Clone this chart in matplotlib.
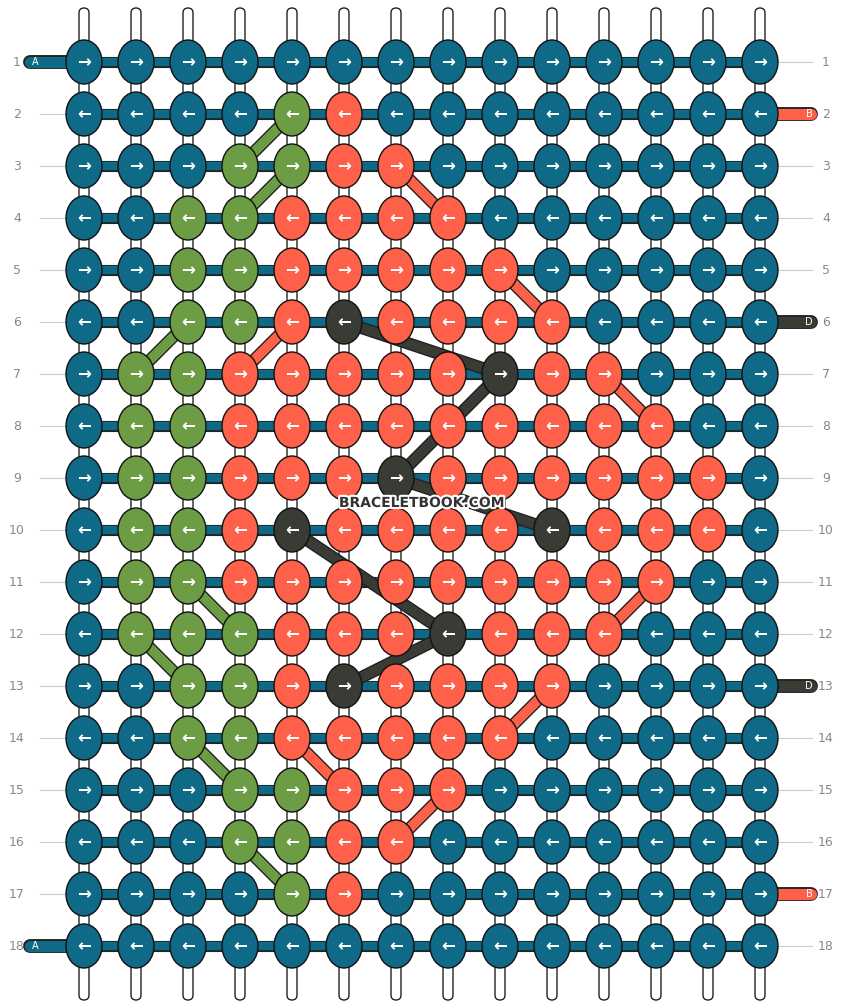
import matplotlib
matplotlib.use("Agg")
import matplotlib.pyplot as plt
from matplotlib.patches import Ellipse, FancyBboxPatch
import matplotlib.patheffects as pe

TEAL, GREEN, RED, DARK = "#0f6a87", "#6c9d45", "#ff6049", "#393b35"
cmap = {"T": TEAL, "G": GREEN, "R": RED, "D": DARK}
rows = [
    "TTTTTTTTTTTTTT",
    "TTTTGRTTTTTTTT",
    "TTTGGRRTTTTTTT",
    "TTGGRRRRTTTTTT",
    "TTGGRRRRRTTTTT",
    "TTGGRDRRRRTTTT",
    "TGGRRRRRDRRTTT",
    "TGGRRRRRRRRRTT",
    "TGGRRRDRRRRRRT",
    "TGGRDRRRRDRRRT",
    "TGGRRRRRRRRRTT",
    "TGGGRRRDRRRTTT",
    "TTGGRDRRRRTTTT",
    "TTGGRRRRRTTTTT",
    "TTTGGRRRTTTTTT",
    "TTTGGRRTTTTTTT",
    "TTTTGRTTTTTTTT",
    "TTTTTTTTTTTTTT",
]
# diagonal threads: (color, col1, row1, col2, row2)
segments = [
    ("G", 5, 2, 4, 3), ("G", 5, 3, 4, 4), ("G", 3, 6, 2, 7),
    ("G", 2, 12, 3, 13), ("G", 3, 11, 4, 12), ("G", 3, 14, 4, 15), ("G", 4, 16, 5, 17),
    ("R", 7, 3, 8, 4), ("R", 9, 5, 10, 6), ("R", 5, 6, 4, 7), ("R", 11, 7, 12, 8),
    ("R", 12, 11, 11, 12), ("R", 10, 13, 9, 14), ("R", 5, 14, 6, 15), ("R", 8, 15, 7, 16),
    ("D", 6, 6, 9, 7), ("D", 9, 7, 7, 9), ("D", 7, 9, 10, 10),
    ("D", 5, 10, 8, 12), ("D", 8, 12, 6, 13),
]
left_ends = {1: ("A", TEAL), 18: ("A", TEAL)}
right_ends = {2: ("B", RED), 17: ("B", RED), 6: ("D", DARK), 13: ("D", DARK)}

fig = plt.figure(figsize=(8.44, 10.08), dpi=100)
ax = fig.add_axes([0, 0, 1, 1])
ax.set_xlim(0, 844); ax.set_ylim(1008, 0); ax.axis("off")
X = lambda c: 84 + 52 * (c - 1)
Y = lambda r: 62 + 52 * (r - 1)
ncol = len(rows[0])

# vertical white strands
for c in range(1, ncol + 1):
    ax.add_patch(FancyBboxPatch((X(c) - 5, 8), 10, 992, boxstyle="round,pad=0,rounding_size=5",
                                fc="white", ec="#222", lw=1, zorder=1))
for r in range(1, len(rows) + 1):
    y = Y(r)
    ax.plot([40, 68], [y, y], color="#ccc", lw=0.8, zorder=0)
    ax.plot([778, 812], [y, y], color="#ccc", lw=0.8, zorder=0)
    ax.text(17, y, str(r), color="#888", ha="center", va="center", fontsize=9)
    ax.text(826, y, str(r), color="#888", ha="center", va="center", fontsize=9)
    ax.plot([X(1) - 10, X(ncol) + 10], [y, y], color=TEAL, lw=6, zorder=2,
            path_effects=[pe.Stroke(linewidth=8, foreground="#222"), pe.Normal()])
    if r in left_ends:
        t, col = left_ends[r]
        ax.plot([30, X(1)], [y, y], color=col, lw=8, solid_capstyle="round", zorder=2,
                path_effects=[pe.Stroke(linewidth=10, foreground="#222", capstyle="round"), pe.Normal()])
        ax.text(35, y, t, color="white", fontsize=7, ha="center", va="center", zorder=3)
    if r in right_ends:
        t, col = right_ends[r]
        ax.plot([X(ncol), 811], [y, y], color=col, lw=8, solid_capstyle="round", zorder=2,
                path_effects=[pe.Stroke(linewidth=10, foreground="#222", capstyle="round"), pe.Normal()])
        ax.text(809, y, t, color="white", fontsize=7, ha="center", va="center", zorder=3)

for k, c1, r1, c2, r2 in segments:
    ax.plot([X(c1), X(c2)], [Y(r1), Y(r2)], color=cmap[k], lw=7, zorder=3,
            path_effects=[pe.Stroke(linewidth=9, foreground="#222"), pe.Normal()])

for r, row in enumerate(rows, start=1):
    for c, k in enumerate(row, start=1):
        ax.add_patch(Ellipse((X(c), Y(r)), 36, 44, fc=cmap[k], ec="#111", lw=1, zorder=4))
        ax.text(X(c), Y(r), "→" if r % 2 else "←", color="white", fontsize=12,
                fontweight="bold", ha="center", va="center", zorder=5)

ax.text(422, 503, "BRACELETBOOK.COM", fontsize=10, fontweight="bold", color="#333",
        ha="center", va="center", zorder=6,
        path_effects=[pe.Stroke(linewidth=3, foreground="white"), pe.Normal()])
fig.savefig("out.png", dpi=100)
